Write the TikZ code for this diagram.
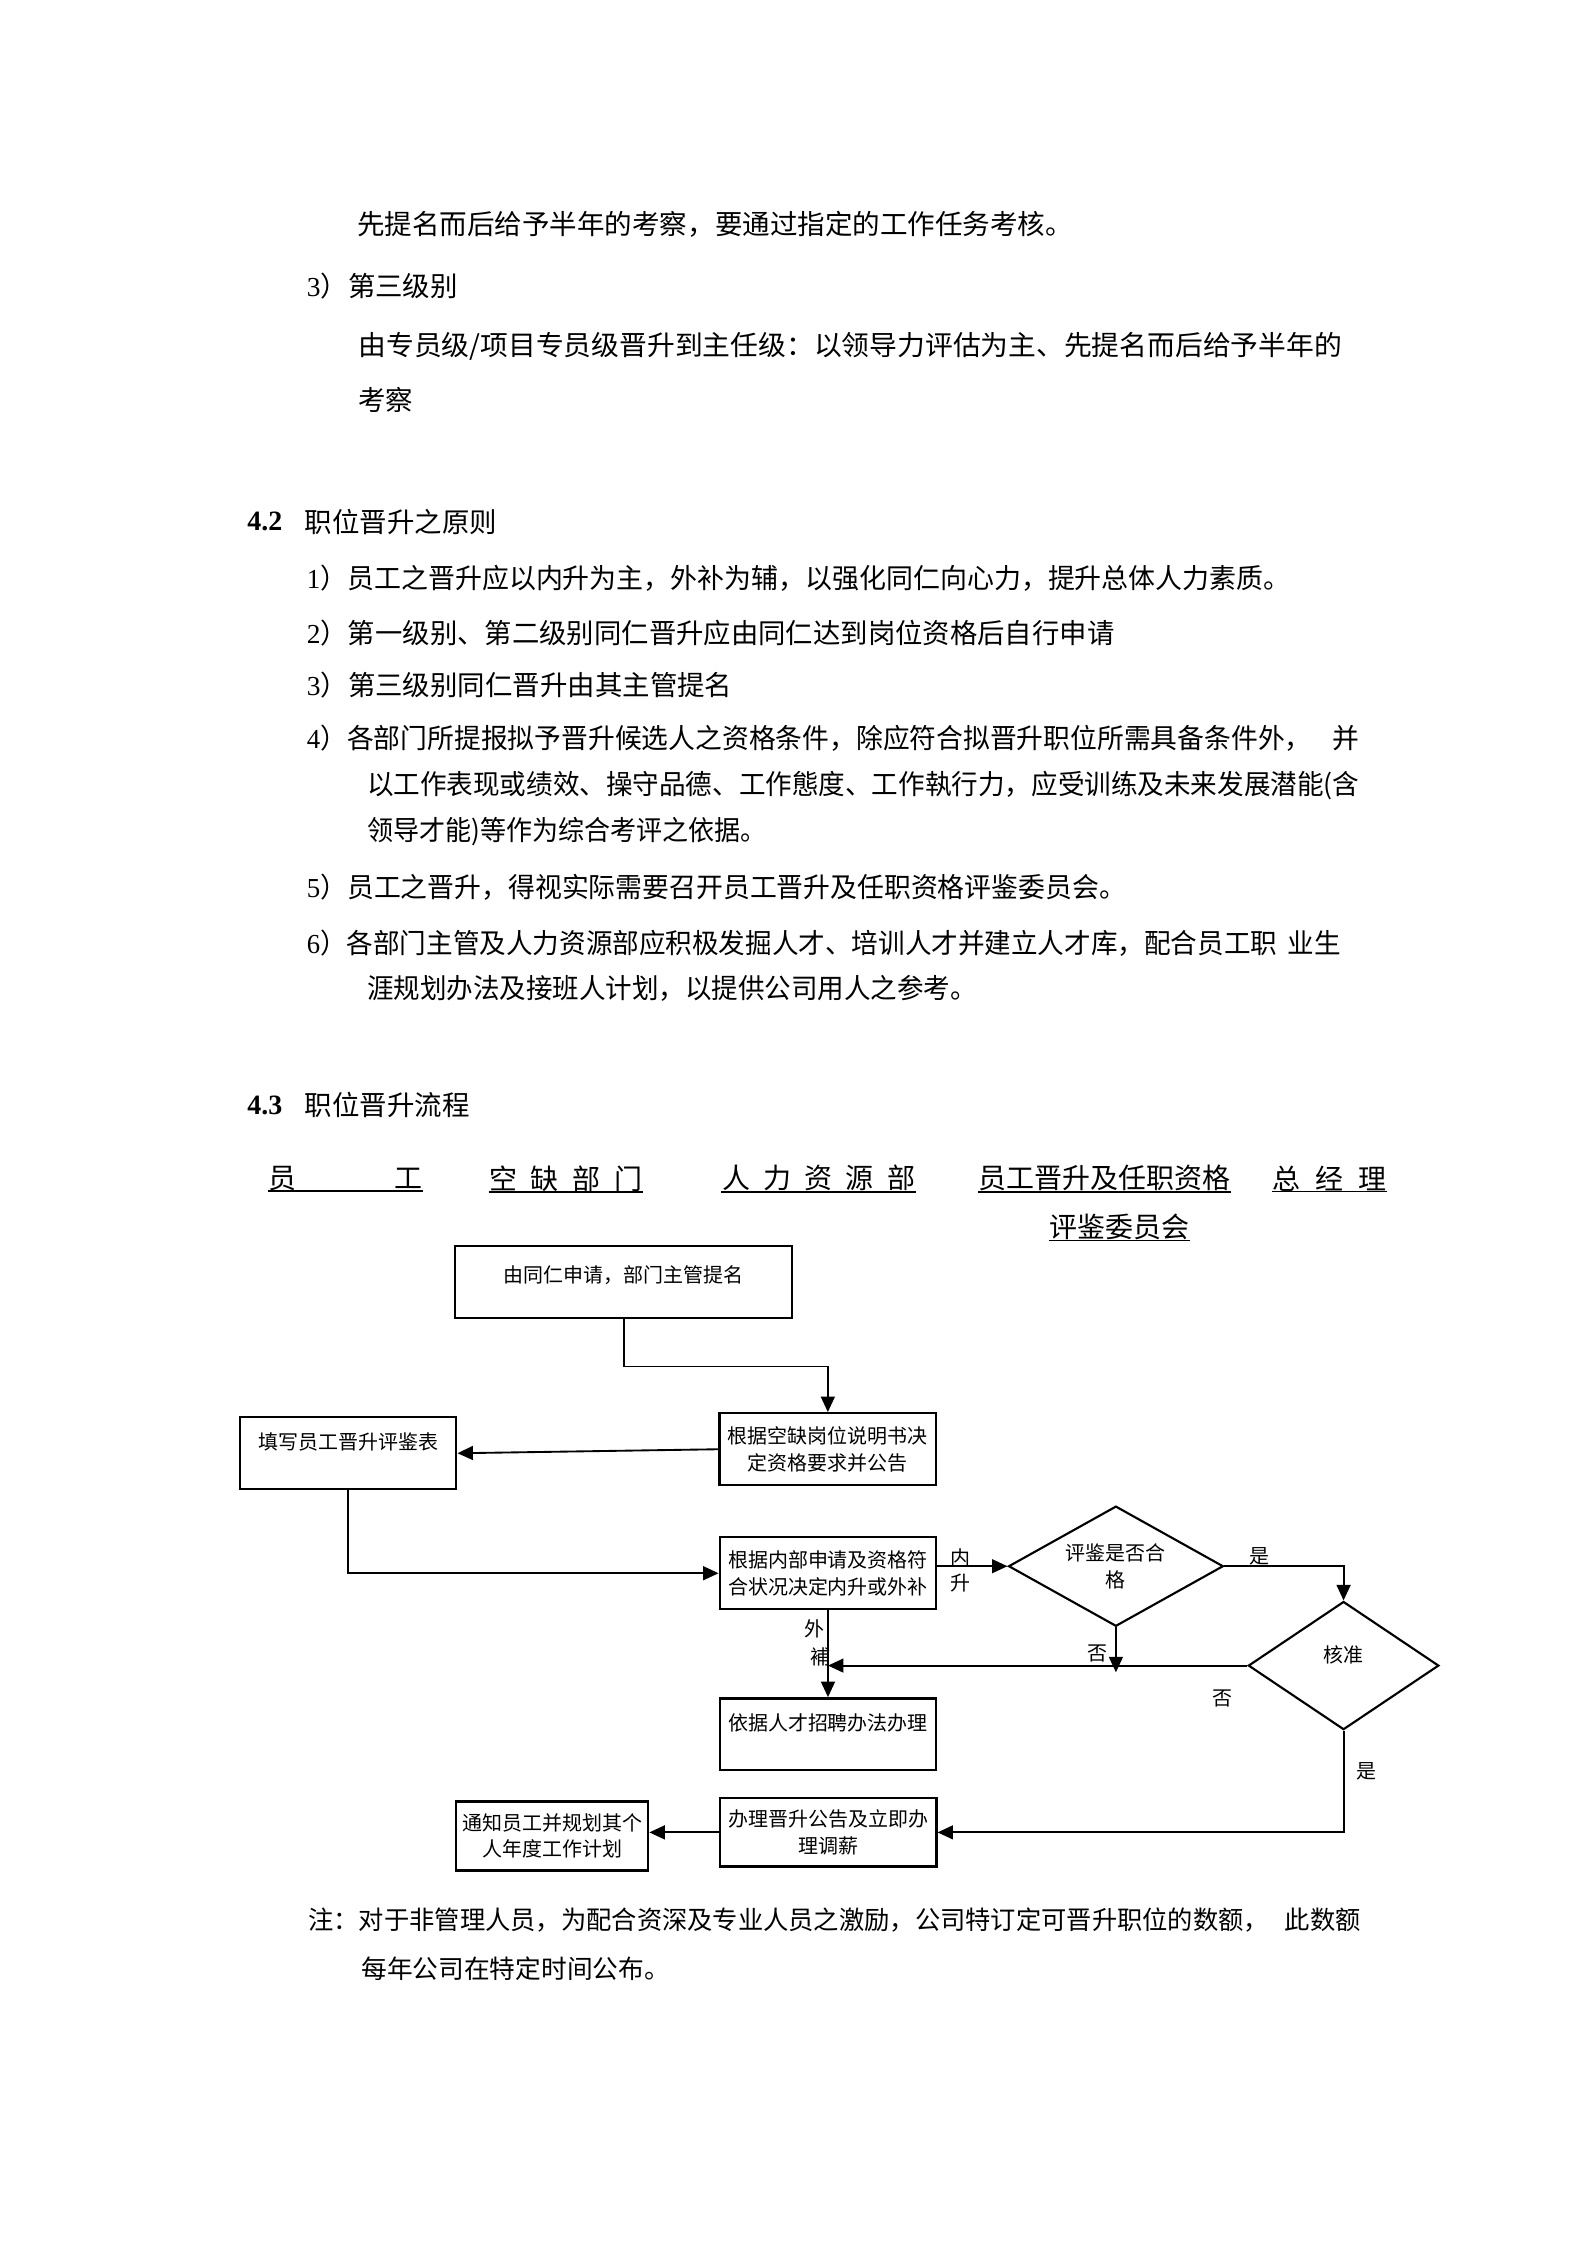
\documentclass[tikz,border=0pt]{standalone}
\usepackage{fontspec}
\setmainfont{Liberation Serif}
\newfontfamily\cjk{Noto Sans CJK SC}
\usetikzlibrary{arrows.meta,shapes.geometric}

\newlength\ux
\setlength\ux{0.5373pt}
\newcommand\fitline[2]{\resizebox{#1\ux}{\height}{#2}}

\begin{document}
\begin{tikzpicture}[
  x=\ux, y=-\ux,
  body/.style   = {anchor=west, inner sep=0pt, font=\fontsize{10.3pt}{12pt}\cjk},
  note/.style   = {anchor=west, inner sep=0pt, font=\fontsize{9.6pt}{12pt}\cjk},
  head/.style   = {anchor=west, inner sep=0pt, font=\fontsize{10.5pt}{12pt}\selectfont\bfseries},
  lane/.style   = {anchor=west, inner sep=0pt, font=\fontsize{10.5pt}{12pt}\cjk},
  box/.style    = {draw, line width=0.9pt, inner sep=0pt, align=center,
                   minimum width=81.2pt, minimum height=27pt,
                   font=\fontsize{7.5pt}{10pt}\cjk},
  check/.style  = {draw, diamond, line width=0.8pt, inner sep=0pt, align=center,
                   font=\fontsize{7.5pt}{10pt}\cjk},
  flow/.style   = {line width=0.7pt, -{Triangle[length=5.8pt,width=5.2pt]}},
  uline/.style  = {line width=0.6pt},
  lbl/.style    = {inner sep=0pt, font=\fontsize{7.5pt}{9pt}\cjk},
]

  \path[use as bounding box, fill=white] (0,0) rectangle (1108,1568);

  % text above the chart
  \node[body] (l1)  at (249,157)   {\fitline{500}{先提名而后给予半年的考察，要通过指定的工作任务考核。}};
  \node[body] (l2)  at (214,200)   {\textrm{3}）第三级别};
  \node[body] (l3)  at (250,242)   {\fitline{687}{由专员级/项目专员级晋升到主任级：以领导力评估为主、先提名而后给予半年的}};
  \node[body] (l4)  at (250,279.5) {考察};

  \node[head] (sec42)  at (172.4,364.4) {4.2};
  \node[body] (sec42t) at (212.5,364.4) {职位晋升之原则};

  \node[body] (p1)  at (214,404)   {\fitline{687}{\textrm{1}）员工之晋升应以内升为主，外补为辅，以强化同仁向心力，提升总体人力素质。}};
  \node[body] (p2)  at (214,442.4) {\fitline{564}{\textrm{2}）第一级别、第二级别同仁晋升应由同仁达到岗位资格后自行申请}};
  \node[body] (p3)  at (214,478.6) {\textrm{3}）第三级别同仁晋升由其主管提名};
  \node[body] (p4)  at (214,515.8) {\fitline{735}{\textrm{4}）各部门所提报拟予晋升候选人之资格条件，除应符合拟晋升职位所需具备条件外，\hspace{8pt}并}};
  \node[body] (p4b) at (256,548.4) {\fitline{693}{以工作表现或绩效、操守品德、工作態度、工作執行力，应受训练及未来发展潜能(含}};
  \node[body] (p4c) at (256,581)   {\fitline{279}{领导才能)等作为综合考评之依据。}};
  \node[body] (p5)  at (214,619.5) {\fitline{572}{\textrm{5}）员工之晋升，得视实际需要召开员工晋升及任职资格评鉴委员会。}};
  \node[body] (p6)  at (214,659)   {\fitline{722}{\textrm{6}）各部门主管及人力资源部应积极发掘人才、培训人才并建立人才库，配合员工职\hspace{4pt}业生}};
  \node[body] (p6b) at (256,690.5) {\fitline{426}{涯规划办法及接班人计划，以提供公司用人之参考。}};

  \node[head] (sec43)  at (172.4,772) {4.3};
  \node[body] (sec43t) at (212.5,772) {职位晋升流程};

  % lanes
  \node[lane] (laneStaff)  at (187.4,823) {\makebox[107\ux][s]{员\hfill 工}};
  \node[lane] (laneDept)   at (341.3,823) {\makebox[107\ux][s]{空\hfill 缺\hfill 部\hfill 门}};
  \node[lane] (laneHR)     at (503.9,823) {\makebox[135\ux][s]{人\hfill 力\hfill 资\hfill 源\hfill 部}};
  \node[lane] (laneBoard)  at (682.9,823) {员工晋升及任职资格};
  \node[lane] (laneBoard2) at (732.6,857) {评鉴委员会};
  \node[lane] (laneGM)     at (888.7,823) {\makebox[79\ux][s]{总\hfill 经\hfill 理}};
  \draw[uline] (laneStaff.south west)  -- (laneStaff.south east);
  \draw[uline] (laneDept.south west)   -- (laneDept.south east);
  \draw[uline] (laneHR.south west)     -- (laneHR.south east);
  \draw[uline] (laneBoard.south west)  -- (laneBoard.south east);
  \draw[uline] (laneBoard2.south west) -- (laneBoard2.south east);
  \draw[uline] (laneGM.south west)     -- (laneGM.south east);

  % chart
  \node[box, minimum width=126.5pt, text depth=6pt] (apply) at (435.6,895.4) {由同仁申请，部门主管提名};
  \node[box] (post)   at (578.2,1012.2) {根据空缺岗位说明书决\\定资格要求并公告};
  \node[box, text depth=9pt] (form) at (243.1,1015) {填写员工晋升评鉴表};
  \node[box] (decide) at (578.3,1098.8) {根据内部申请及资格符\\合状况决定内升或外补};
  \node[box, text depth=9pt] (hire) at (578.3,1211.3) {依据人才招聘办法办理};
  \node[box, minimum height=25.6pt] (notice) at (578.4,1279.8) {办理晋升公告及立即办\\理调薪};
  \node[box, minimum width=72.1pt, minimum height=25.9pt] (plan) at (385.6,1282.3) {通知员工并规划其个\\人年度工作计划};
  \node[check, minimum width=80.6pt, minimum height=45.1pt, aspect=1.79] (review) at (779.4,1093.9) {评鉴是否合\\格};
  \node[check, minimum width=71.5pt, minimum height=48.1pt, aspect=1.48, text depth=8.5pt] (approve) at (938.4,1163.3) {核准};

  \coordinate (reviewNo) at (779.4,1168);
  \coordinate (backJoin) at (decide.south |- approve.west);

  \draw[flow] (apply.south) -- ++(0,33) -| (post.north);
  \draw[flow] (post.west) -- (form.east);
  \draw[flow] (form.south) |- (decide.west);
  \draw[flow] (decide.east |- review.west) -- (review.west);
  \draw[flow] (review.east) -| (approve.north);
  \draw[flow] (review.south) -- (reviewNo);
  \draw[flow] (approve.west) -- (backJoin);
  \draw[flow] (decide.south) -- (hire.north);
  \draw[flow] (approve.south) |- (notice.east);
  \draw[flow] (notice.west) -- (notice.west -| plan.east);

  \node[lbl] (inLbl)   at (670.5,1087.8) {内};
  \node[lbl] (upLbl)   at (670.5,1105.7) {升};
  \node[lbl] (yesLbl)  at (879.6,1087)   {是};
  \node[lbl] (noLbl)   at (766.3,1154.6) {否};
  \node[lbl] (noLbl2)  at (853.7,1186.5) {否};
  \node[lbl] (outLbl)  at (569.2,1137.6) {外};
  \node[lbl] (fillLbl) at (573.3,1157.4) {補};
  \node[lbl] (yesLbl2) at (954.3,1237)   {是};

  % note
  \node[note] (n1) at (215,1341.3) {\fitline{735}{注：对于非管理人员，为配合资深及专业人员之激励，公司特订定可晋升职位的数额，\hspace{6pt}此数额}};
  \node[note] (n2) at (252,1375)   {\fitline{215.5}{每年公司在特定时间公布。}};
\end{tikzpicture}
\end{document}
